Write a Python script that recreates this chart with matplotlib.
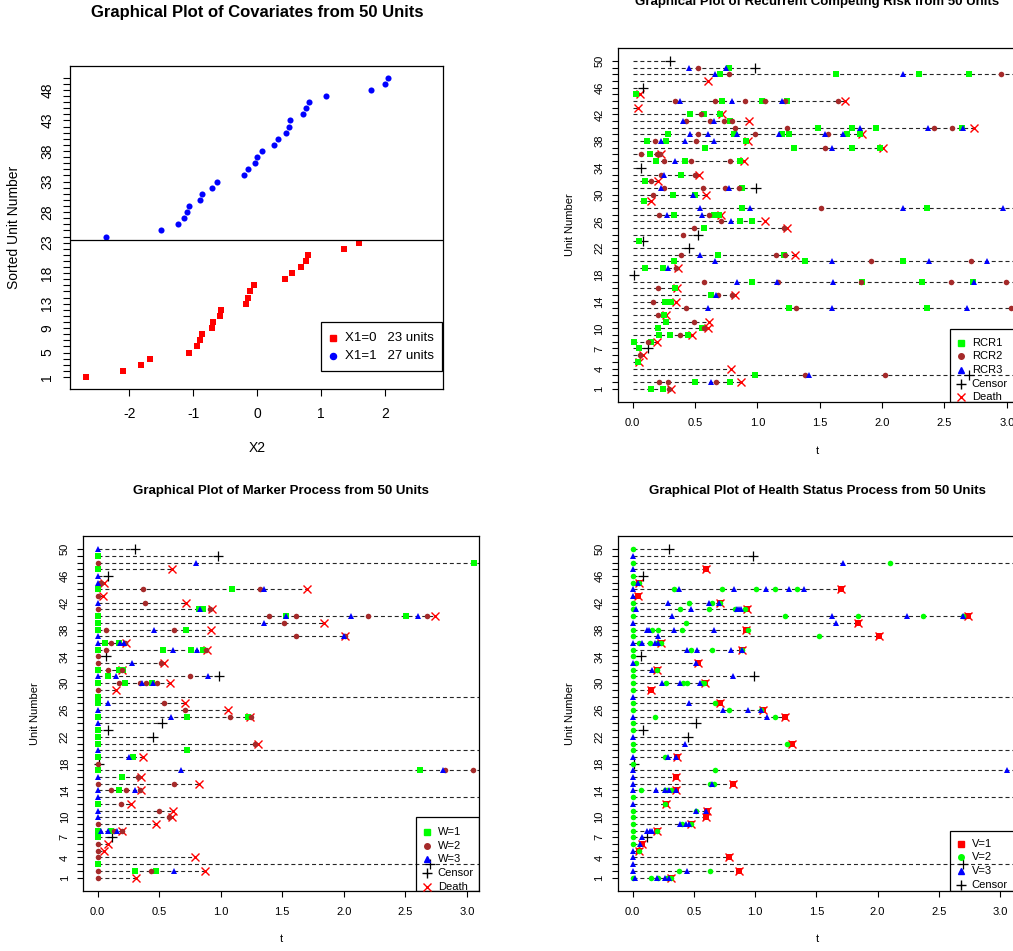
import matplotlib
matplotlib.use("Agg")
import matplotlib.pyplot as plt
from matplotlib.patches import Rectangle

plt.rcParams["font.family"] = ["Liberation Sans", "DejaVu Sans"]

W_PX, H_PX = 1013, 951

GREEN = "#00FF00"
BROWN = "#A52A2A"
BLUE = "#0000FF"
RED = "#FF0000"

# ---------------- covariates (top left) ----------------
# X2 sorted within each X1 group, units 1-23 (X1=0) and 24-50 (X1=1)
x2_x1_0 = [-2.67, -2.10, -1.82, -1.67, -1.06, -0.94, -0.90, -0.87, -0.71, -0.69,
           -0.58, -0.56, -0.17, -0.14, -0.11, -0.05, 0.43, 0.54, 0.69, 0.77,
           0.80, 1.36, 1.59]
x2_x1_1 = [-2.36, -1.50, -1.24, -1.14, -1.09, -1.06, -0.90, -0.86, -0.70, -0.63,
           -0.20, -0.15, -0.04, 0.00, 0.07, 0.27, 0.33, 0.45, 0.50, 0.51,
           0.71, 0.77, 0.81, 1.07, 1.78, 2.00, 2.05]
cov_yticks = [1, 5, 9, 13, 18, 23, 28, 33, 38, 43, 48]

# ---------------- follow-up of the 50 units ----------------
units = list(range(1, 51))
# end of the dashed line (3.5 = still followed past the plotted range)
follow_up = [0.31, 0.87, 3.5, 0.79, 0.05, 0.08, 0.12, 0.195, 0.475, 0.60,
             0.61, 0.27, 3.5, 0.35, 0.82, 0.355, 3.5, 0.01, 0.365, 3.5,
             1.30, 0.45, 0.085, 0.52, 1.24, 1.06, 0.71, 3.5, 0.15, 0.59,
             0.99, 0.20, 0.535, 0.07, 0.89, 0.23, 2.01, 0.925, 1.84, 2.74,
             0.93, 0.715, 0.043, 1.70, 0.055, 0.085, 0.60, 3.5, 0.98, 0.30]
censor = {3: 2.70, 7: 0.12, 18: 0.01, 22: 0.45, 23: 0.085, 24: 0.52,
          31: 0.99, 34: 0.07, 46: 0.085, 49: 0.98, 50: 0.30}
death = {1: 0.31, 2: 0.87, 4: 0.79, 5: 0.05, 6: 0.08, 8: 0.195, 9: 0.475,
         10: 0.60, 11: 0.61, 12: 0.27, 14: 0.35, 15: 0.82, 16: 0.355,
         19: 0.365, 21: 1.30, 25: 1.24, 26: 1.06, 27: 0.71, 29: 0.15,
         30: 0.59, 32: 0.20, 33: 0.535, 35: 0.89, 36: 0.23, 37: 2.01,
         38: 0.925, 39: 1.84, 40: 2.74, 41: 0.93, 42: 0.715, 43: 0.043,
         44: 1.70, 45: 0.055, 47: 0.60}
event_yticks = [1, 4, 7, 10, 14, 18, 22, 26, 30, 34, 38, 42, 46, 50]

# ---------------- recurrent competing risks (top right) ----------------
rcr1 = {1: [0.145, 0.245], 2: [0.50, 0.78], 3: [0.98], 5: [0.04], 7: [0.05],
        8: [0.013, 0.15], 9: [0.21, 0.30, 0.44], 10: [0.20, 0.555], 11: [0.27],
        12: [0.25], 13: [1.25, 2.36], 14: [0.26, 0.29, 0.31], 15: [0.63],
        16: [0.34], 17: [0.96, 1.84, 2.32, 2.73], 19: [0.10, 0.24],
        20: [0.33, 1.38, 2.17], 21: [0.68, 1.21], 23: [0.05], 25: [0.57],
        26: [0.86, 0.955], 27: [0.33, 0.65, 0.695], 28: [0.88, 2.36],
        29: [0.094], 30: [0.32, 0.50], 31: [0.88], 32: [0.10], 33: [0.39],
        35: [0.19, 0.42, 0.86], 36: [0.14], 37: [0.58, 1.29, 1.76, 1.98],
        38: [0.115, 0.27, 0.905], 39: [0.28, 0.81, 1.195, 1.25, 1.72, 1.82],
        40: [1.49, 1.76, 1.95, 2.64], 41: [0.78], 42: [0.46, 0.57, 0.70],
        44: [0.72, 1.04, 1.24], 45: [0.03], 48: [0.70, 1.63, 2.30, 2.70],
        49: [0.77]}
rcr2 = {1: [0.29], 2: [0.21, 0.28, 0.67], 3: [1.38, 2.02], 6: [0.06], 8: [0.12],
        9: [0.38], 10: [0.57], 11: [0.495], 12: [0.20], 13: [0.43, 1.31, 3.03],
        14: [0.16], 15: [0.68, 0.80], 16: [0.20],
        17: [0.57, 1.165, 1.83, 2.55, 2.99], 19: [0.35], 20: [1.91, 2.71],
        21: [0.39, 1.15, 1.22], 24: [0.40], 25: [0.49, 1.21], 26: [0.71],
        27: [0.21, 0.61], 28: [1.51], 30: [0.16], 31: [0.25, 0.56, 0.74, 0.85],
        32: [0.15], 33: [0.23, 0.50], 35: [0.25, 0.47, 0.78],
        36: [0.07, 0.195, 0.22], 37: [1.54], 38: [0.18, 0.51],
        39: [0.52, 0.98, 1.57], 40: [0.82, 1.24, 2.42, 2.56],
        41: [0.425, 0.62, 0.73, 0.80], 42: [0.545],
        44: [0.34, 0.66, 0.90, 1.06, 1.225, 1.65], 48: [0.77, 2.95], 49: [0.52]}
rcr3 = {2: [0.63], 3: [1.41], 13: [0.60, 1.60, 2.68], 15: [0.67],
        17: [0.84, 1.16, 1.61, 2.74], 19: [0.28], 20: [0.66, 1.60, 2.38, 2.84],
        21: [0.54], 26: [0.79], 27: [0.275, 0.556], 28: [0.54, 0.94, 2.17, 2.97],
        30: [0.48], 31: [0.23, 0.77], 33: [0.25], 35: [0.34], 37: [1.60],
        38: [0.23, 0.42, 0.65], 39: [0.46, 0.60, 0.84, 1.17, 1.54, 1.69],
        40: [1.82, 2.37, 2.65], 41: [0.40, 0.65], 44: [0.38, 0.80, 1.195],
        48: [0.66, 2.17], 49: [0.455, 0.75]}

# ---------------- marker process W (bottom left) ----------------
w1 = {2: [0.30, 0.475], 3: [0], 7: [0], 8: [0, 0.105], 12: [0], 14: [0.176],
      16: [0.20], 17: [0, 2.62], 19: [0, 0.285], 20: [0.73], 21: [0], 22: [0],
      23: [0], 25: [0, 0.73, 1.225], 27: [0], 28: [0], 30: [0, 0.225, 0.44],
      31: [0.08], 32: [0, 0.175, 0.205], 35: [0, 0.53, 0.76, 0.86],
      36: [0.06, 0.17], 38: [0, 0.72], 39: [0], 40: [0, 1.53, 2.51],
      41: [0.82, 0.855], 44: [0, 1.09], 47: [0], 48: [3.06], 49: [0]}
w2 = {1: [0], 2: [0, 0.43], 4: [0], 5: [0], 6: [0], 8: [0.13, 0.195], 9: [0],
      10: [0.58], 11: [0.50], 12: [0.19], 14: [0.105, 0.233, 0.344],
      15: [0, 0.62], 16: [0.33], 17: [2.82, 3.05], 18: [0], 21: [1.28],
      25: [1.075, 1.245], 26: [0.71], 27: [0.54], 29: [0],
      30: [0.175, 0.34, 0.39, 0.48], 31: [0.75], 32: [0.08, 0.20],
      33: [0, 0.515], 34: [0], 35: [0.07, 0.88], 36: [0.105, 0.22],
      37: [1.61, 2.01], 38: [0.065, 0.62], 39: [1.515],
      40: [1.39, 1.615, 2.20, 2.68], 41: [0, 0.915], 42: [0.385], 43: [0],
      44: [0.37, 1.32], 45: [0.02, 0.03], 48: [0]}
w3 = {2: [0.62], 8: [0.03, 0.08, 0.16], 10: [0], 11: [0], 13: [0],
      14: [0, 0.306], 16: [0], 17: [0.68, 2.81], 19: [0.255], 20: [0], 24: [0],
      25: [0.595], 26: [0], 27: [0.08], 30: [0.36, 0.45], 31: [0, 0.146, 0.895],
      33: [0.28], 35: [0.615, 0.81], 36: [0, 0.18, 0.21], 37: [0, 2.00],
      38: [0.46], 39: [1.35], 40: [1.53, 2.06, 2.60], 41: [0.835], 42: [0],
      44: [1.35], 45: [0], 46: [0], 48: [0.80], 50: [0]}

# ---------------- health status V (bottom right) ----------------
v1 = dict(death)  # V=1 is reached at death
v2 = {1: [0, 0.147, 0.21, 0.28, 0.31], 2: [0.38, 0.63], 5: [0.05], 6: [0],
      7: [0], 8: [0, 0.196], 9: [0, 0.40, 0.475], 10: [0], 11: [0, 0.52],
      12: [0.26], 13: [0], 14: [0.07, 0.26, 0.28, 0.31], 15: [0.63, 0.66],
      17: [0.67], 18: [0], 19: [0.26], 20: [0], 21: [0, 1.26], 23: [0], 24: [0],
      25: [0.18, 1.16], 26: [0, 0.79, 1.05], 27: [0, 0.67], 29: [0],
      30: [0, 0.27, 0.41, 0.44, 0.57, 0.58], 31: [0], 32: [0, 0.196],
      33: [0.025], 34: [0], 35: [0, 0.48, 0.645, 0.895],
      36: [0.05, 0.14, 0.20, 0.23], 37: [0, 1.52],
      38: [0, 0.155, 0.21, 0.405, 0.94], 39: [0.435],
      40: [0, 1.24, 1.84, 2.37, 2.70], 41: [0, 0.39, 0.62, 0.835, 0.92],
      42: [0, 0.46, 0.645, 0.713], 44: [0.34, 0.73, 1.01, 1.165, 1.345],
      45: [0, 0.055], 46: [0], 48: [0, 2.10], 50: [0]}
v3 = {1: [0.02, 0.196, 0.26, 0.30], 2: [0, 0.44], 3: [0], 4: [0], 5: [0],
      6: [0.06], 7: [0.075], 8: [0.12, 0.14, 0.16], 9: [0.385, 0.435, 0.457],
      11: [0.52, 0.60], 12: [0], 14: [0, 0.19, 0.265, 0.295, 0.35],
      15: [0, 0.65], 16: [0], 17: [0, 3.06], 19: [0, 0.29, 0.35], 21: [0.43],
      22: [0], 25: [0, 1.10], 26: [0.74, 0.945, 1.045], 27: [0.46], 28: [0],
      30: [0.24, 0.39, 0.55], 31: [0.82], 32: [0.16], 33: [0, 0.52],
      35: [0.445, 0.525, 0.80, 0.89], 36: [0, 0.075, 0.18, 0.21], 37: [0.207],
      38: [0.12, 0.13, 0.34, 0.66], 39: [0, 1.66], 40: [0.32, 1.63, 2.24, 2.70],
      41: [0.025, 0.48, 0.85, 0.87, 0.885], 42: [0.29, 0.62, 0.705], 43: [0],
      44: [0, 0.38, 0.83, 1.09, 1.28, 1.40], 45: [0.04], 47: [0], 48: [1.715],
      49: [0]}


def flatten(d):
    xs, ys = [], []
    for u, ts in d.items():
        if not isinstance(ts, list):
            ts = [ts]
        for t in ts:
            xs.append(t)
            ys.append(u)
    return xs, ys


fig = plt.figure(figsize=(W_PX / 100, H_PX / 100), dpi=100)


def add_axes(box):
    L, T, R, B = box
    return fig.add_axes([L / W_PX, 1 - B / H_PX, (R - L) / W_PX, (B - T) / H_PX])


def frac(box, x, y):
    L, T, R, B = box
    return (x - L) / (R - L), (B - y) / (B - T)


def draw_legend(ax, box, rect, sym_x, txt_x, ys, items, fs):
    l, t, r, b = rect
    x0, y0 = frac(box, l, b)
    x1, y1 = frac(box, r, t)
    ax.add_patch(Rectangle((x0, y0), x1 - x0, y1 - y0, transform=ax.transAxes,
                           fill=False, edgecolor="black", linewidth=0.9,
                           clip_on=True, zorder=5))
    for (mk, col, ms, lab), y in zip(items, ys):
        sx, sy = frac(box, sym_x, y)
        tx, _ = frac(box, txt_x, y)
        ax.plot([sx], [sy], marker=mk, color=col, markersize=ms, linestyle="none",
                markeredgewidth=1.0, transform=ax.transAxes, clip_on=True, zorder=6)
        ax.text(tx, sy, lab, transform=ax.transAxes, fontsize=fs, va="center",
                ha="left", clip_on=True, zorder=6)


def style_axes(ax, tick_len, xpad, ypad, fs):
    for s in ax.spines.values():
        s.set_linewidth(0.9)
    ax.tick_params(axis="both", direction="out", length=tick_len, width=0.8,
                   labelsize=fs)
    ax.tick_params(axis="x", pad=xpad)
    ax.tick_params(axis="y", pad=ypad)


# ======== panel 1: covariates ========
box1 = (70.3, 65.7, 443.3, 389.0)
ax1 = add_axes(box1)
ax1.plot(x2_x1_0, units[:23], "s", color=RED, markersize=4.6, markeredgewidth=0)
ax1.plot(x2_x1_1, units[23:], "o", color=BLUE, markersize=4.4, markeredgewidth=0)
ax1.axhline(23.5, color="black", linewidth=0.9)
ax1.set_xlim(-2.923, 2.912)
ax1.set_ylim(-0.96, 51.96)
ax1.set_xticks([-2, -1, 0, 1, 2])
ax1.set_xticklabels(["-2", "-1", "0", "1", "2"])
ax1.set_yticks(units)
ax1.set_yticklabels([str(u) if u in cov_yticks else "" for u in units],
                    rotation=90, va="center")
style_axes(ax1, 5.3, 7.7, 6.3, 10)
draw_legend(ax1, box1, (321, 322, 442, 371), 333, 345, [338, 356],
            [("s", RED, 4.6, "X1=0   23 units"), ("o", BLUE, 4.4, "X1=1   27 units")],
            9.5)
fig.text(256.8 / W_PX, 1 - 16.7 / H_PX, "Graphical Plot of Covariates from 50 Units",
         ha="center", va="baseline", fontsize=12, fontweight="bold")
fig.text(256.8 / W_PX, 1 - 448 / H_PX, "X2", ha="center", va="center", fontsize=10)
fig.text(14 / W_PX, 1 - 227 / H_PX, "Sorted Unit Number", ha="center", va="center",
         rotation=90, fontsize=10)


# ======== event panels ========
def event_panel(box, xlim, kinds, title, title_y, xlab_y, ylab_x, leg_rect,
                leg_ys, leg_items):
    ax = add_axes(box)
    for u, end in zip(units, follow_up):
        ax.plot([0, end], [u, u], color="0.15", linewidth=0.8,
                linestyle=(0, (3.6, 2.6)), zorder=1)
    dx, dy = flatten(death)
    ax.plot(dx, dy, "x", color=RED, markersize=5.2, markeredgewidth=1.0, zorder=2)
    cx, cy = flatten(censor)
    ax.plot(cx, cy, "+", color="black", markersize=7.5, markeredgewidth=0.9, zorder=2)
    for d, mk, col, ms in kinds:
        xs, ys = flatten(d)
        ax.plot(xs, ys, mk, color=col, markersize=ms, markeredgewidth=0, zorder=3)
    ax.set_xlim(*xlim)
    ax.set_ylim(-0.96, 51.96)
    xt = [0, 0.5, 1.0, 1.5, 2.0, 2.5, 3.0]
    ax.set_xticks(xt)
    ax.set_xticklabels([f"{v:.1f}" for v in xt])
    ax.set_yticks(units)
    ax.set_yticklabels([str(u) if u in event_yticks else "" for u in units],
                       rotation=90, va="center")
    style_axes(ax, 4.0, 7.4, 5.8, 8)
    L, T, R, B = box
    draw_legend(ax, box, (leg_rect[0], leg_rect[1], R, B), leg_rect[0] + 10.7,
                leg_rect[0] + 21.7, leg_ys, leg_items, 8)
    cx_fig = (L + R) / 2
    fig.text(cx_fig / W_PX, 1 - title_y / H_PX, title, ha="center", va="baseline",
             fontsize=9.5, fontweight="bold")
    fig.text(cx_fig / W_PX, 1 - xlab_y / H_PX, "t", ha="center", va="center",
             fontsize=8)
    fig.text(ylab_x / W_PX, 1 - ((T + B) / 2) / H_PX, "Unit Number", ha="center",
             va="center", rotation=90, fontsize=8)
    return ax


censor_item = ("+", "black", 7.5, "Censor")
death_item = ("x", RED, 5.2, "Death")

event_panel((618.0, 47.7, 1016.0, 401.7), (-0.118, 3.074),
            [(rcr1, "s", GREEN, 4.3), (rcr2, "o", BROWN, 4.0), (rcr3, "^", BLUE, 5.0)],
            "Graphical Plot of Recurrent Competing Risk from 50 Units", 5, 451, 570,
            (950, 329), [342.7, 356.4, 370.1, 383.8, 397.5],
            [("s", GREEN, 4.3, "RCR1"), ("o", BROWN, 4.0, "RCR2"),
             ("^", BLUE, 5.0, "RCR3"), censor_item, death_item])

event_panel((83.3, 536.0, 479.3, 890.7), (-0.117, 3.102),
            [(w1, "s", GREEN, 4.3), (w2, "o", BROWN, 4.0), (w3, "^", BLUE, 5.0)],
            "Graphical Plot of Marker Process from 50 Units", 494, 939, 35,
            (416, 817), [832, 845.7, 859.4, 873.1, 886.8],
            [("s", GREEN, 4.3, "W=1"), ("o", BROWN, 4.0, "W=2"),
             ("^", BLUE, 5.0, "W=3"), censor_item, death_item])

event_panel((618.0, 536.0, 1016.0, 890.7), (-0.12, 3.13),
            [(v1, "s", RED, 4.3), (v2, "o", GREEN, 4.0), (v3, "^", BLUE, 5.0)],
            "Graphical Plot of Health Status Process from 50 Units", 494, 939, 570,
            (950, 831), [843.7, 857.4, 871.1, 884.8, 898.5],
            [("s", RED, 4.3, "V=1"), ("o", GREEN, 4.0, "V=2"),
             ("^", BLUE, 5.0, "V=3"), censor_item, death_item])

fig.savefig("out.png", dpi=100)
